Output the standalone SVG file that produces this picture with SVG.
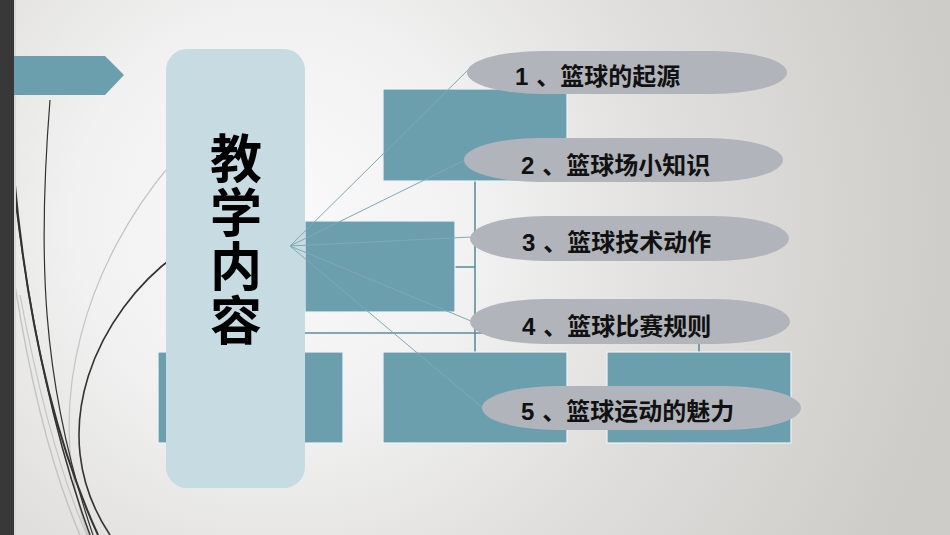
<svg xmlns="http://www.w3.org/2000/svg" width="950" height="535" viewBox="0 0 950 535">
  <defs>
    <radialGradient id="bg" gradientUnits="userSpaceOnUse" cx="280" cy="220" r="680">
      <stop offset="0" stop-color="#fafafa"/>
      <stop offset="0.3" stop-color="#f1f1f1"/>
      <stop offset="0.6" stop-color="#dfdedc"/>
      <stop offset="1" stop-color="#cdccc8"/>
    </radialGradient>
    <style>
      .dark { fill: none; stroke: #333333; }
      .light { fill: none; stroke: #c4c4c4; }
      .box { fill: #6b9fae; stroke: #eef4f6; stroke-width: 1.2; }
      .org { fill: none; stroke: #5e8e9d; stroke-width: 1.6; }
      .fan { fill: none; stroke: #7ea9b7; stroke-width: 1; }
      .pill { fill: #b1b4ba; }
      .lbl { font-family: "Liberation Sans", "Noto Sans CJK SC", sans-serif; font-weight: bold; font-size: 24px; fill: #111111; }
      .title { font-family: "Noto Sans CJK SC", sans-serif; font-weight: bold; font-size: 52px; letter-spacing: 2px; fill: #000000; writing-mode: vertical-rl; }
    </style>
  </defs>

  <rect width="950" height="535" fill="url(#bg)"/>

  <g id="swirls">
    <path class="light" stroke-width="1.2" d="M170,165 C90,260 40,400 88,535"/>
    <path class="light" stroke-width="1.5" d="M15,285 C30,380 52,470 80,535"/>
    <path class="light" stroke-width="1.2" d="M20,295 C38,390 60,475 87,535"/>
    <path class="dark" stroke-width="1.2" d="M50,100 C38,250 40,380 93,535"/>
    <path class="dark" stroke-width="2" d="M14,175 C25,300 50,430 98,535"/>
    <path class="dark" stroke-width="1.5" d="M16,205 C30,320 55,440 90,535"/>
    <path class="dark" stroke-width="1.6" d="M176,255 C100,310 40,430 110,535"/>
  </g>

  <rect id="sidebar" x="0" y="0" width="14" height="535" fill="#383838"/>
  <rect x="14" y="0" width="2" height="535" fill="#d8d8d8"/>

  <g id="tab">
    <polygon points="14,56 105,56 124,75 105,95 14,95" fill="#6b9fae"/>
  </g>

  <g id="org-lines">
    <line class="org" x1="475" y1="181" x2="475" y2="352"/>
    <line class="org" x1="455" y1="267" x2="475" y2="267"/>
    <line class="org" x1="250" y1="333" x2="699" y2="333"/>
    <line class="org" x1="699" y1="333" x2="699" y2="352"/>
  </g>

  <g id="box-top"><rect class="box" x="383" y="89" width="184" height="92"/></g>
  <g id="box-assist"><rect class="box" x="305" y="221" width="150" height="91"/></g>
  <g id="box-left"><rect class="box" x="158" y="352" width="185" height="91"/></g>
  <g id="box-mid"><rect class="box" x="383" y="352" width="184" height="91"/></g>
  <g id="box-right"><rect class="box" x="607" y="352" width="184" height="91"/></g>

  <g id="panel">
    <rect x="166" y="49" width="139" height="439" rx="21" ry="21" fill="#c7dbe2"/>
    <text class="title" x="236" y="132">教学内容</text>
  </g>

  <g id="connectors">
    <line class="fan" x1="290" y1="246" x2="468" y2="70"/>
    <line class="fan" x1="290" y1="246" x2="465" y2="160"/>
    <line class="fan" x1="290" y1="246" x2="471" y2="237"/>
    <line class="fan" x1="290" y1="246" x2="471" y2="321"/>
    <line class="fan" x1="290" y1="246" x2="484" y2="409"/>
  </g>

  <g id="item1">
    <rect class="pill" x="467" y="51" width="320" height="43" rx="75" ry="21.5"/>
    <text class="lbl" x="515" y="85">1<tspan dx="8">、篮球的起源</tspan></text>
  </g>
  <g id="item2">
    <rect class="pill" x="464" y="138" width="319" height="44" rx="75" ry="22"/>
    <text class="lbl" x="521" y="174">2<tspan dx="8">、篮球场小知识</tspan></text>
  </g>
  <g id="item3">
    <rect class="pill" x="470" y="216" width="319" height="45" rx="75" ry="22.5"/>
    <text class="lbl" x="522" y="251">3<tspan dx="8">、篮球技术动作</tspan></text>
  </g>
  <g id="item4">
    <rect class="pill" x="470" y="299" width="320" height="45" rx="75" ry="22.5"/>
    <text class="lbl" x="522" y="335">4<tspan dx="8">、篮球比赛规则</tspan></text>
  </g>
  <g id="item5">
    <rect class="pill" x="482" y="386" width="319" height="44" rx="75" ry="22"/>
    <text class="lbl" x="521" y="420">5<tspan dx="8">、篮球运动的魅力</tspan></text>
  </g>
</svg>
